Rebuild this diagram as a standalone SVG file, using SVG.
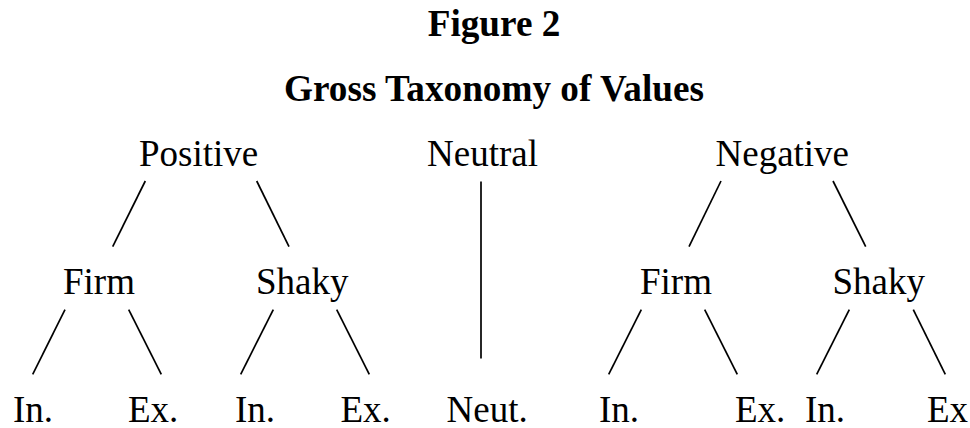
<svg xmlns="http://www.w3.org/2000/svg" width="970" height="428" viewBox="0 0 970 428">
<style>
text{font-family:"Liberation Serif","Times New Roman",serif;fill:#000}
.t{font-size:37.2px;font-weight:bold;text-anchor:middle}
.n{font-size:37px}
.c line{stroke:#000;stroke-width:1.7}
</style>
<rect width="970" height="428" fill="#fff"/>
<text class="t" x="494" y="36">Figure 2</text>
<text class="t" x="494" y="101">Gross Taxonomy of Values</text>
<g class="c" id="connectors">
<line x1="145.3" y1="181" x2="112.7" y2="246.7"/>
<line x1="256.7" y1="181" x2="289" y2="246.7"/>
<line x1="65" y1="309.7" x2="32.7" y2="374.3"/>
<line x1="128.7" y1="309.7" x2="161.3" y2="374.3"/>
<line x1="273.3" y1="309.7" x2="240.7" y2="374.3"/>
<line x1="336.7" y1="309.7" x2="369.3" y2="374.3"/>
<line x1="481" y1="181.5" x2="481" y2="358.5"/>
<line x1="721" y1="181" x2="689" y2="246.7"/>
<line x1="833" y1="181" x2="865.7" y2="246.7"/>
<line x1="641.3" y1="309.7" x2="608.7" y2="374.3"/>
<line x1="704.7" y1="309.7" x2="737.3" y2="374.3"/>
<line x1="849.3" y1="309.7" x2="816.7" y2="374.3"/>
<line x1="913.3" y1="309.7" x2="945.3" y2="374.3"/>
</g>
<g id="positive"><text class="n" x="139" y="166">Positive</text></g>
<g id="neutral"><text class="n" x="427" y="166">Neutral</text></g>
<g id="negative"><text class="n" x="715.5" y="166">Negative</text></g>
<g id="pos-firm"><text class="n" x="63" y="294">Firm</text></g>
<g id="pos-shaky"><text class="n" x="256" y="294">Shaky</text></g>
<g id="neg-firm"><text class="n" x="640" y="294">Firm</text></g>
<g id="neg-shaky"><text class="n" x="832.5" y="294">Shaky</text></g>
<g id="pf-in"><text class="n" x="13" y="421.5">In.</text></g>
<g id="pf-ex"><text class="n" x="128" y="421.5">Ex.</text></g>
<g id="ps-in"><text class="n" x="235" y="421.5">In.</text></g>
<g id="ps-ex"><text class="n" x="340.5" y="421.5">Ex.</text></g>
<g id="neut"><text class="n" x="446.5" y="421.5">Neut.</text></g>
<g id="nf-in"><text class="n" x="599" y="421.5">In.</text></g>
<g id="nf-ex"><text class="n" x="735" y="421.5">Ex.</text></g>
<g id="ns-in"><text class="n" x="805" y="421.5">In.</text></g>
<g id="ns-ex"><text class="n" x="927" y="421.5">Ex</text></g>
</svg>
